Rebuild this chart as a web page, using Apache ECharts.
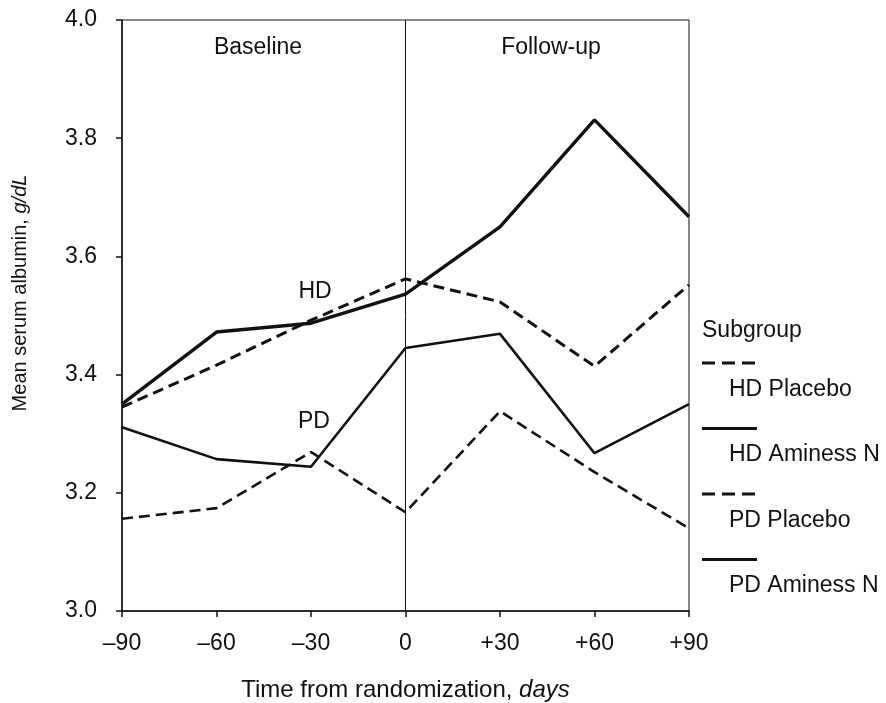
<!DOCTYPE html>
<html>
<head>
<meta charset="utf-8">
<script src="https://cdn.jsdelivr.net/npm/echarts@6/dist/echarts.min.js"></script>
<style>
  html, body { margin: 0; padding: 0; background: #fff; }
  #chart { width: 886px; height: 703px; }
</style>
</head>
<body>
<div id="chart"></div>
<script>
// days from randomization
const days = [-90, -60, -30, 0, 30, 60, 90];

// mean serum albumin, g/dL
const hdPlacebo = [3.345, 3.416, 3.492, 3.562, 3.523, 3.414, 3.552];
const hdAminess = [3.350, 3.472, 3.487, 3.536, 3.650, 3.831, 3.667];
const pdPlacebo = [3.156, 3.174, 3.269, 3.167, 3.338, 3.235, 3.140];
const pdAminess = [3.311, 3.257, 3.244, 3.445, 3.469, 3.267, 3.350];

const yTicks = [3.0, 3.2, 3.4, 3.6, 3.8, 4.0];

const FONT = "'Liberation Sans', Arial, sans-serif";
const DASH = [11, 6];

const pairs = (vals) => days.map((d, i) => [d, vals[i]]);

const dayLabel = (v) => {
    if (v < 0) return '\u2013' + Math.abs(v);
    if (v > 0) return '+' + v;
    return '0';
};

const chart = echarts.init(document.getElementById('chart'));

// legend drawn by hand: sample line above its label
const legendItems = [
    { name: 'HD Placebo', dashed: true, w: 3 },
    { name: 'HD Aminess N', dashed: false, w: 3 },
    { name: 'PD Placebo', dashed: true, w: 3 },
    { name: 'PD Aminess N', dashed: false, w: 3 }
];
const legendGraphics = [{
    type: 'text', left: 702, top: 319,
    style: { text: 'Subgroup', font: '23px ' + FONT, fill: '#111' }
}];
legendItems.forEach((it, i) => {
    const y = 363 + i * 65.5;
    legendGraphics.push({
        type: 'line',
        shape: { x1: 702, y1: y, x2: 757, y2: y },
        style: { stroke: '#111', lineWidth: it.w, lineDash: it.dashed ? [13, 7] : null }
    });
    legendGraphics.push({
        type: 'text', left: 729, top: y + 15,
        style: { text: it.name, font: '23px ' + FONT, fill: '#111' }
    });
});

const note = (txt, cx, cy) => ({
    type: 'text', x: cx, y: cy,
    style: { text: txt, font: '23px ' + FONT, fill: '#111', align: 'center', verticalAlign: 'middle' }
});

chart.setOption({
    animation: false,
    backgroundColor: '#fff',
    grid: {
        left: 122, right: 197, top: 20, bottom: 92,
        outerBoundsMode: 'none',
        containLabel: false,
        show: true, borderColor: '#111', borderWidth: 1, backgroundColor: 'transparent'
    },
    xAxis: {
        type: 'value',
        min: -90, max: 90, interval: 30,
        name: 'Time from randomization, {i|days}',
        nameLocation: 'middle',
        nameGap: 67,
        nameTextStyle: {
            fontFamily: FONT, fontSize: 24, color: '#111',
            rich: { i: { fontStyle: 'italic', fontFamily: FONT, fontSize: 24, color: '#111' } }
        },
        axisLine: { onZero: false, lineStyle: { color: '#111', width: 1.5 } },
        axisTick: { show: true, length: 6, lineStyle: { color: '#111', width: 1.5 } },
        axisLabel: {
            margin: 21, fontFamily: FONT, fontSize: 23, color: '#111',
            formatter: dayLabel
        },
        splitLine: { show: false }
    },
    yAxis: {
        type: 'value',
        min: yTicks[0], max: yTicks[yTicks.length - 1], interval: 0.2,
        name: 'Mean serum albumin, {i|g/dL}',
        nameLocation: 'middle',
        nameGap: 92,
        nameTextStyle: {
            fontFamily: FONT, fontSize: 20, color: '#111',
            padding: [0, 0, 0, 45],
            rich: { i: { fontStyle: 'italic', fontFamily: FONT, fontSize: 20, color: '#111' } }
        },
        axisLine: { show: true, onZero: false, lineStyle: { color: '#111', width: 1.5 } },
        axisTick: { show: true, length: 6, lineStyle: { color: '#111', width: 1.5 } },
        axisLabel: {
            margin: 25, fontFamily: FONT, fontSize: 23, color: '#111',
            padding: [3, 0, 0, 0],
            formatter: (v) => v.toFixed(1)
        },
        splitLine: { show: false }
    },
    series: [
        {
            name: 'HD Placebo', type: 'line', data: pairs(hdPlacebo),
            showSymbol: false, symbol: 'none',
            lineStyle: { color: '#111', width: 3, type: DASH },
            markLine: {
                silent: true, symbol: 'none', label: { show: false },
                lineStyle: { color: '#111', width: 1, type: 'solid' },
                data: [{ xAxis: 0 }]
            }
        },
        {
            name: 'HD Aminess N', type: 'line', data: pairs(hdAminess),
            showSymbol: false, symbol: 'none',
            lineStyle: { color: '#111', width: 3.4, type: 'solid' }
        },
        {
            name: 'PD Placebo', type: 'line', data: pairs(pdPlacebo),
            showSymbol: false, symbol: 'none',
            lineStyle: { color: '#111', width: 2.6, type: DASH }
        },
        {
            name: 'PD Aminess N', type: 'line', data: pairs(pdAminess),
            showSymbol: false, symbol: 'none',
            lineStyle: { color: '#111', width: 2.6, type: 'solid' }
        }
    ],
    graphic: [
        note('Baseline', 258, 48),
        note('Follow-up', 551, 48),
        note('HD', 315, 292),
        note('PD', 314, 422)
    ].concat(legendGraphics)
});
</script>
</body>
</html>
